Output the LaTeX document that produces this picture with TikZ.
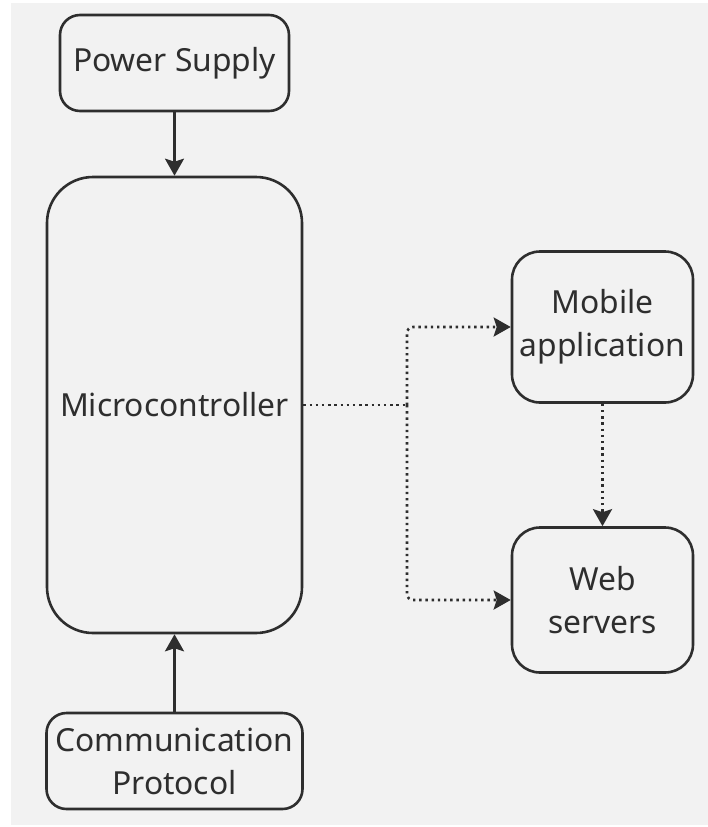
\documentclass[tikz,border=0pt]{standalone}
\usepackage{fontspec}
\setmainfont{Noto Sans}
\usetikzlibrary{arrows.meta}
\definecolor{ink}{HTML}{2E2E2E}
\definecolor{paper}{HTML}{F2F2F2}
\begin{document}
\begin{tikzpicture}[x=1pt,y=-1pt,
  block/.style={draw=ink, line width=2.6pt, align=center, text=ink,
    font=\fontsize{31.8}{43}\selectfont, inner sep=0pt},
  link/.style={draw=ink, line width=2.4pt,
    -{Stealth[length=17pt,width=19pt,inset=3pt]}},
  weak/.style={draw=ink, line width=2.6pt, dash pattern=on 2.4pt off 3.8pt,
    -{Stealth[length=17pt,width=19pt,inset=3pt]}}]
  % canvas
  \useasboundingbox (0,0) rectangle (708,827);
  \fill[white] (0,0) rectangle (708,827);
  \fill[paper] (11,3) rectangle (708,825);

  % blocks
  \node[block, minimum width=229pt, minimum height=96pt, rounded corners=20pt]
    (power) at (174.5,63) {Power Supply};
  \node[block, minimum width=255pt, minimum height=456pt, rounded corners=46pt]
    (mcu) at (174.5,405) {Microcontroller};
  \node[block, minimum width=256pt, minimum height=96pt, rounded corners=20pt]
    (comm) at (174.5,761) {Communication\\Protocol};
  \node[block, minimum width=181pt, minimum height=151pt, rounded corners=28pt]
    (mobile) at (602.5,327) {Mobile\\application};
  \node[block, minimum width=181pt, minimum height=145pt, rounded corners=28pt]
    (web) at (602.5,600) {Web\\servers};

  % solid links
  \draw[link] (power.south) -- (mcu.north);
  \draw[link] (comm.north) -- (mcu.south);

  % dotted links from the microcontroller
  \coordinate (forkx) at (407,0);
  \coordinate (fork) at (forkx |- mcu.east);
  \draw[weak, -] (mcu.east) -- (fork);
  \draw[weak, rounded corners=6pt] (fork) |- (mobile.west);
  \draw[weak, rounded corners=6pt] (fork) |- (web.west);
  \draw[weak] (mobile.south) -- (web.north);
\end{tikzpicture}
\end{document}
